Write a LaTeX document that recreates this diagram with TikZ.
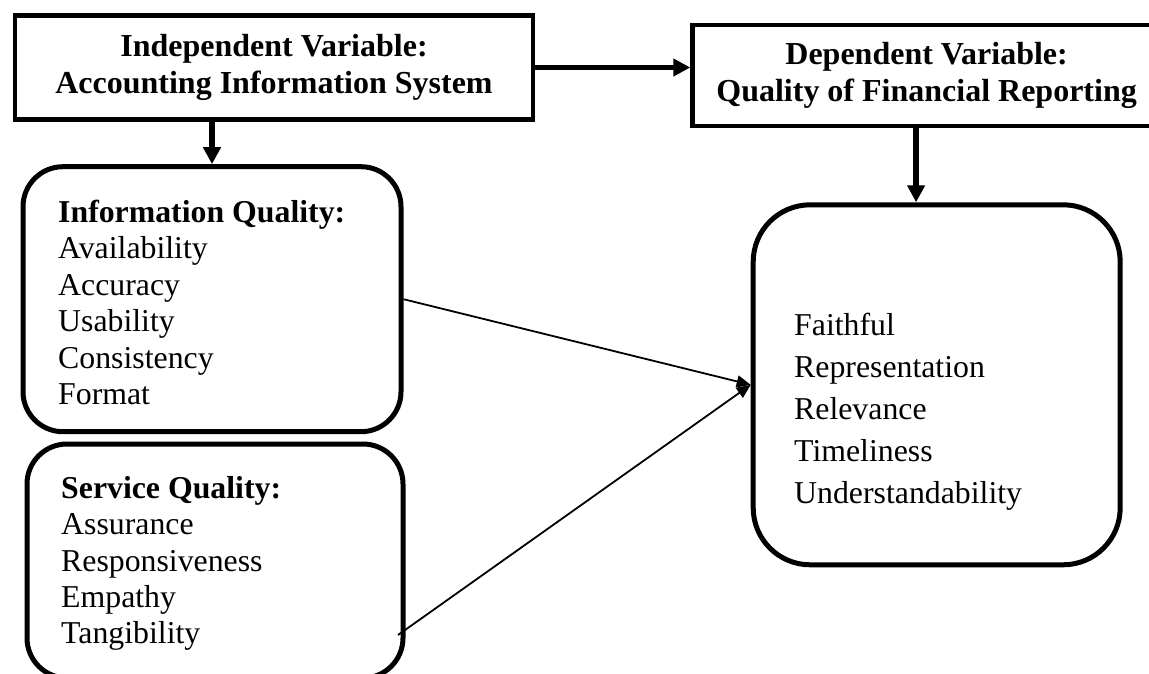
\documentclass[tikz,border=0pt]{standalone}
\usepackage{fontspec}
\setmainfont{Liberation Serif}
\usetikzlibrary{arrows.meta,positioning}

\begin{document}
\begin{tikzpicture}[x=1pt, y=-1pt,
  box/.style={rectangle, draw=black, line width=4.6pt, inner sep=0pt, align=center,
              font=\fontsize{32}{37.5}\selectfont\bfseries},
  panel/.style={rectangle, draw=black, line width=5pt, rounded corners=40pt, inner sep=0pt},
  items/.style={anchor=north west, inner sep=0pt, align=left,
                font=\fontsize{31.8}{36.4}\selectfont},
  arr/.style={-{Triangle[length=17pt, width=17pt]}, line width=5.5pt},
  thinarr/.style={-{Triangle[length=14pt, width=12pt]}, line width=1.8pt}
]
  \useasboundingbox (0,0) rectangle (1149,674);
  \clip (0,0) rectangle (1149,674);
  % variables
  \node[box, minimum width=518pt, minimum height=104pt] (ind) at (274,67.5)
    {Independent Variable:\\Accounting Information System};
  \node[box, minimum width=468pt, minimum height=101pt, right=155pt of ind, yshift=-8pt] (dep)
    {Dependent Variable:\\Quality of Financial Reporting};
  % dimensions
  \node[panel, minimum width=378pt, minimum height=265pt] (info) at (212,299.2) {};
  \node[items] (infotext) at (58,200)
    {\textbf{Information Quality:}\\Availability\\Accuracy\\Usability\\Consistency\\Format};
  \node[panel, minimum width=376pt, minimum height=234pt] (serv) at (215,561) {};
  \node[items] (servtext) at (61,476)
    {\textbf{Service Quality:}\\Assurance\\Responsiveness\\Empathy\\Tangibility};
  \node[panel, rounded corners=57pt, minimum width=367pt, minimum height=360pt] (res) at (936.7,384.8) {};
  \node[items, font=\fontsize{31.8}{42}\selectfont] (restext) at (794,313)
    {Faithful\\Representation\\Relevance\\Timeliness\\Understandability};
  % links
  \draw[arr] (ind.east) -- (ind.east -| dep.west);
  \draw[arr] (info.north |- ind.south) -- (info.north);
  \draw[arr] ([xshift=-10.5pt]dep.south) -- ([xshift=-10.5pt]dep.south |- res.north);
  \draw[thinarr] (info.east) -- (res.west);
  \draw[thinarr] ([xshift=-7.5pt, yshift=-74pt]serv.east) -- (res.west);
\end{tikzpicture}
\end{document}
